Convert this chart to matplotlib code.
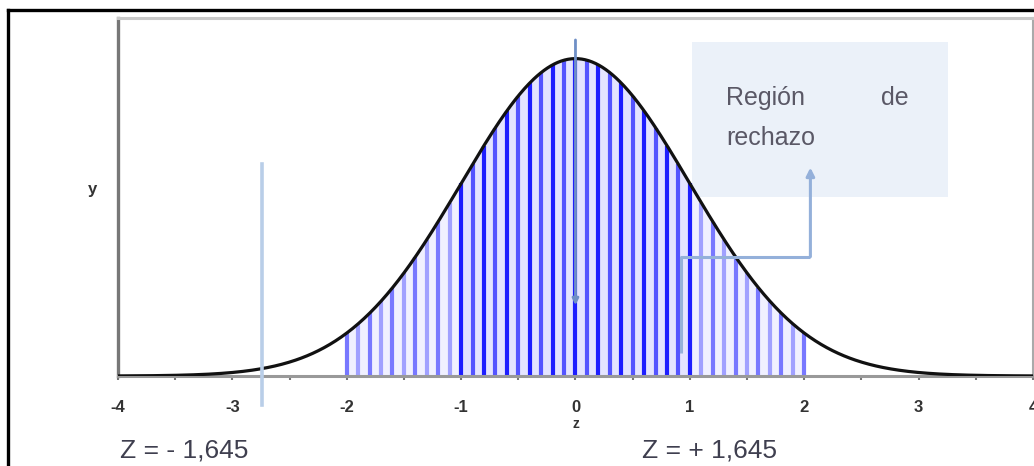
import numpy as np
import matplotlib
matplotlib.use('Agg')
import matplotlib.pyplot as plt
from matplotlib.lines import Line2D

plt.rcParams['font.family'] = ['Liberation Sans', 'DejaVu Sans']
plt.rcParams['axes.unicode_minus'] = False

# normal curve parameters
mu = 0.0
sigma = 1.0

x_ticks = [-4, -3, -2, -1, 0, 1, 2, 3, 4]
x_tick_labels = ['-4', '-3', '-2', '-1', '0', '1', '2', '3', '4']
minor_ticks = [-3.5, -2.5, -1.5, -0.5, 0.5, 1.5, 2.5, 3.5]

# shaded stripes under the curve
stripe_x = [-2.0, -1.9, -1.8, -1.7, -1.6, -1.5, -1.4, -1.3, -1.2, -1.1,
            -1.0, -0.9, -0.8, -0.7, -0.6, -0.5, -0.4, -0.3, -0.2, -0.1,
            0.0, 0.1, 0.2, 0.3, 0.4, 0.5, 0.6, 0.7, 0.8, 0.9,
            1.0, 1.1, 1.2, 1.3, 1.4, 1.5, 1.6, 1.7, 1.8, 1.9, 2.0]

z_left = -2.74      # light marker line on the left
z_mid = 0.0         # arrow on the centre
box_x = [1.02, 3.26]
box_y = [0.225, 0.42]
link_x = [0.927, 0.927, 2.054, 2.054]
link_y = [0.029, 0.150, 0.150, 0.262]


def pdf(x):
    return np.exp(-0.5 * ((x - mu) / sigma) ** 2) / (sigma * np.sqrt(2 * np.pi))


fig = plt.figure(figsize=(10.34, 4.66), dpi=100)
ax = fig.add_axes([0.1141, 0.1931, 0.8849, 0.7683])

xs = np.linspace(-4, 4, 800)
xf = np.linspace(-2, 2, 400)
ax.fill_between(xf, 0, pdf(xf), where=np.abs(xf) <= 1.0, color='#e4e4ff', lw=0, zorder=1)
ax.fill_between(xf, 0, pdf(xf), where=np.abs(xf) >= 1.0, color='#f0f0ff', lw=0, zorder=1)

for i, sx in enumerate(stripe_x):
    if abs(sx) < 1.0 + 1e-9:
        c = '#1e1eff' if i % 2 == 0 else '#5454ff'
    else:
        c = '#7878ff' if i % 2 == 0 else '#a0a0ff'
    ax.vlines(sx, 0, pdf(sx), color=c, lw=3.0, zorder=2)

ax.plot(xs, pdf(xs), color='#111111', lw=2.3, zorder=4)

# annotation box
ax.add_patch(plt.Rectangle((box_x[0], box_y[0]), box_x[1] - box_x[0], box_y[1] - box_y[0],
                           facecolor='#ebf1f9', edgecolor='none', zorder=0))
ax.text(1.32, 0.349, 'Región', fontsize=18, color='#5a5866', va='center', ha='left', zorder=5)
ax.text(2.675, 0.349, 'de', fontsize=18, color='#5a5866', va='center', ha='left', zorder=5)
ax.text(1.32, 0.299, 'rechazo', fontsize=18, color='#5a5866', va='center', ha='left', zorder=5)

# connector with arrow up to the box
ax.plot(link_x[:3], link_y[:3], color='#94b0da', lw=2.2, zorder=5, solid_capstyle='butt')
ax.annotate('', xy=(link_x[3], link_y[3]), xytext=(link_x[2], link_y[2]),
            arrowprops=dict(arrowstyle='-|>', color='#94b0da', lw=2.2,
                            mutation_scale=12, shrinkA=0, shrinkB=0), zorder=5)

# centre arrow
ax.annotate('', xy=(z_mid, 0.089), xytext=(z_mid, 0.4224),
            arrowprops=dict(arrowstyle='-|>', color='#6f8fc6', lw=2.0,
                            mutation_scale=9, shrinkA=0, shrinkB=0), zorder=5)

# left marker line (crosses the axis)
ax.add_line(Line2D([z_left, z_left], [-0.0365, 0.2665], color='#b9cee8', lw=2.6,
                   clip_on=False, zorder=5))

ax.set_xlim(-4, 4)
ax.set_ylim(0, 0.45)
ax.set_xticks(x_ticks)
ax.set_xticklabels(x_tick_labels, fontsize=12, fontweight='bold', color='#333333')
ax.set_xticks(minor_ticks, minor=True)
ax.tick_params(axis='x', which='both', direction='out', length=3, width=1.5,
               color='#777777', pad=14)
ax.set_yticks([])

ax.set_xlabel('z', fontsize=10, fontweight='bold', color='#333333', labelpad=2)
ax.set_ylabel('y', rotation=0, fontsize=12, fontweight='bold', color='#333333')
ax.yaxis.set_label_coords(-0.028, 0.50)

ax.spines['left'].set_color('#777777')
ax.spines['left'].set_linewidth(2.4)
ax.spines['bottom'].set_color('#999999')
ax.spines['bottom'].set_linewidth(2.2)
ax.spines['top'].set_color('#c8c8c8')
ax.spines['top'].set_linewidth(2.2)
ax.spines['right'].set_color('#aaaaaa')
ax.spines['right'].set_linewidth(1.5)

# critical values below the axis
fig.text(0.116, 0.034, 'Z = - 1,645', fontsize=19, color='#3f3f4f', va='center', ha='left')
fig.text(0.621, 0.034, 'Z = + 1,645', fontsize=19, color='#3f3f4f', va='center', ha='left')

# outer black frame (cut at right and bottom)
fig.add_artist(Line2D([8 / 1034, 8 / 1034], [-0.1, 1 - 9.5 / 466], color='black', lw=2.4,
                      transform=fig.transFigure))
fig.add_artist(Line2D([8 / 1034, 1.1], [1 - 9.5 / 466, 1 - 9.5 / 466], color='black', lw=2.4,
                      transform=fig.transFigure))

fig.savefig('out.png', dpi=100)
